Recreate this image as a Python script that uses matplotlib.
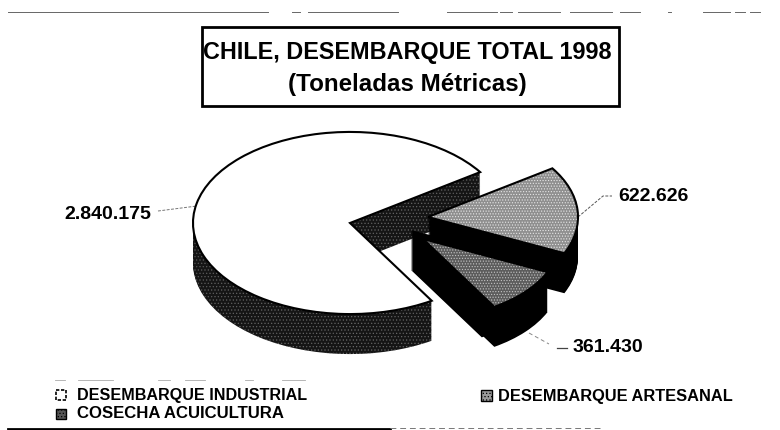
import numpy as np
import matplotlib
matplotlib.use('Agg')
import matplotlib.pyplot as plt
from matplotlib.patches import Wedge, Rectangle
from matplotlib.transforms import Affine2D

plt.rcParams['font.family'] = ['Liberation Sans', 'DejaVu Sans']
plt.rcParams['hatch.linewidth'] = 0.5

# Values from the chart (toneladas metricas)
categories = ['DESEMBARQUE INDUSTRIAL', 'COSECHA ACUICULTURA', 'DESEMBARQUE ARTESANAL']
values = [2840175, 361430, 622626]
value_labels = ['2.840.175', '361.430', '622.626']

START_ANGLE = 34
TILT = 0.58
DEPTH = 40

fig = plt.figure(figsize=(7.8, 4.31), dpi=100)
ax = fig.add_axes([0, 0, 1, 1])
ax.set_xlim(0, 780)
ax.set_ylim(431, 0)
ax.axis('off')

fractions = np.array(values) / sum(values)
edges = START_ANGLE + np.concatenate([[0], np.cumsum(fractions)]) * 360


def slice_tr(center, dy=0):
    return Affine2D().scale(1, -TILT).translate(center[0], center[1] + dy) + ax.transData


def draw_slice(center, radius, t1, t2, top, top_edge, top_hatch, side, side_hatch, zorder):
    # stack the wedge downwards to fake the 3D wall, then put the top face on it
    for dy in range(DEPTH, 0, -1):
        ax.add_patch(Wedge((0, 0), radius, t1, t2, facecolor=side, edgecolor=side_hatch,
                           hatch=side_hatch and '.....', lw=0, transform=slice_tr(center, dy),
                           zorder=zorder))
    tr = slice_tr(center)
    ax.add_patch(Wedge((0, 0), radius, t1, t2, facecolor=top, edgecolor=top_hatch or top,
                       hatch=top_hatch and '......', lw=0, transform=tr, zorder=zorder + 0.1))
    ax.add_patch(Wedge((0, 0), radius, t1, t2, fill=False, edgecolor=top_edge, lw=1.5,
                       transform=tr, zorder=zorder + 0.2))


# industrial, artesanal, then acuicultura in front
draw_slice((350, 224), 157, edges[0], edges[1], 'white', 'black', None, '#151515', '#6e6e6e', 2)
draw_slice((428, 218), 150, edges[2], edges[3], '#8f8f8f', 'black', '#e6e6e6', 'black', None, 3)

# the black block behind the acuicultura apex reaches further left than its top face
for dy in range(DEPTH, -1, -1):
    ax.add_patch(Wedge((0, 0), 136, edges[1], edges[2], facecolor='black', lw=0,
                       transform=slice_tr((411, 231), dy), zorder=3.5))
draw_slice((423, 240), 137, edges[1], edges[2], '#5c5c5c', 'black', '#c4c4c4', 'black', None, 4)

# title box
ax.add_patch(Rectangle((202, 28), 417, 79, fill=False, edgecolor='black', lw=2, zorder=5))
ax.text(407.5, 52, 'CHILE, DESEMBARQUE TOTAL 1998', ha='center', va='center',
        fontsize=16.8, fontweight='bold')
ax.text(407.5, 85, '(Toneladas Métricas)', ha='center', va='center',
        fontsize=17.4, fontweight='bold')

# value labels with their leader lines
ax.text(64, 215, value_labels[0], va='center', fontsize=14, fontweight='bold')
ax.plot([158, 197], [212, 207], color='#777777', lw=0.7, ls=(0, (3, 1.5)))
ax.text(618, 197, value_labels[2], va='center', fontsize=14, fontweight='bold')
ax.plot([578, 603, 612], [218, 197, 197], color='#555555', lw=0.7, ls=(0, (3, 1.5)))
ax.text(573, 348, value_labels[1], va='center', fontsize=14, fontweight='bold')
ax.plot([529, 549], [334, 345], color='#888888', lw=0.7, ls=(0, (4, 3)))
ax.plot([557, 567], [349, 349], color='#444444', lw=0.9)

# legend
ax.add_patch(Rectangle((56, 391), 10, 10, facecolor='white', edgecolor='black', lw=1.2, ls=(0, (2, 1))))
ax.add_patch(Rectangle((56, 410), 10, 10, facecolor='#555555', edgecolor='black', lw=1, hatch='.....'))
ax.add_patch(Rectangle((481, 391), 11, 11, facecolor='#999999', edgecolor='black', lw=1, hatch='.....'))
ax.text(77, 396, categories[0], va='center', fontsize=11.6, fontweight='bold')
ax.text(77, 414, categories[1], va='center', fontsize=12.1, fontweight='bold')
ax.text(498, 397, categories[2], va='center', fontsize=11.8, fontweight='bold')

# scan residue along the page edges
for x0, x1 in [(8, 268), (292, 300), (308, 398), (447, 497), (500, 512), (518, 560), (570, 612),
               (620, 640), (668, 671), (703, 730), (735, 745), (750, 760)]:
    ax.plot([x0, x1], [12.5, 12.5], color='#666666', lw=0.7)
for x0, x1 in [(55, 65), (78, 113), (158, 170), (185, 205), (245, 253), (282, 305)]:
    ax.plot([x0, x1], [381, 381], color='#aaaaaa', lw=0.6)
ax.plot([8, 390], [430, 430], color='black', lw=2)
ax.plot([390, 600], [429, 429], color='#777777', lw=0.7, ls=(0, (6, 4)))

fig.savefig('out.png', dpi=100)
